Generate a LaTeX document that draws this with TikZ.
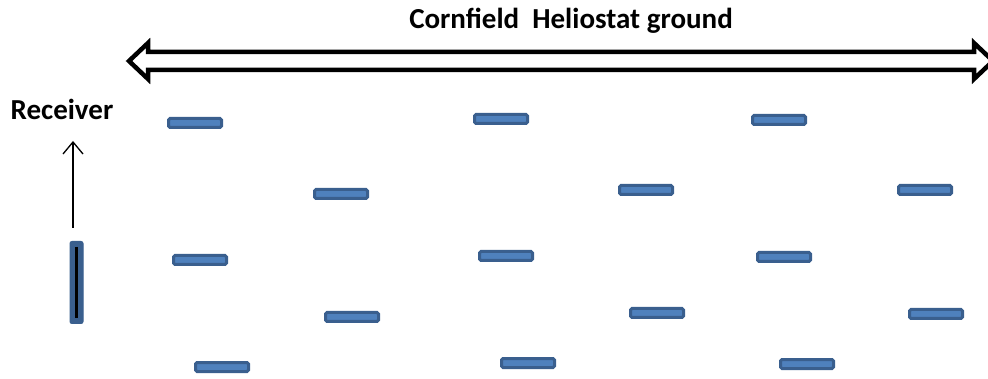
\documentclass[tikz,border=0pt]{standalone}
\usepackage{fontspec}
\setmainfont{Carlito}
\usetikzlibrary{arrows.meta}
\definecolor{hfill}{HTML}{4F81BD}
\definecolor{hborder}{HTML}{3A5F8E}
\begin{document}
\begin{tikzpicture}[x=1pt,y=-1pt,
  helio/.style={draw=hborder,fill=hfill,line width=3pt,rounded corners=1.5pt,minimum width=53pt,minimum height=9pt,inner sep=0pt},
  lbl/.style={font=\bfseries,text=black,inner sep=0pt}]
\useasboundingbox (0,0) rectangle (988,379);
\clip (0,0) rectangle (988,379);
% title
\node[lbl,font=\bfseries\fontsize{29}{34}\selectfont,anchor=base] (title) at (571,29) {Cornfield\ \ Heliostat ground};
% double arrow
\draw[line width=4.5pt,line join=miter] (129,61) -- (148,43) -- (148,52) -- (974,52) -- (974,43) -- (993,61) -- (974,79) -- (974,70) -- (148,70) -- (148,79) -- cycle;
% receiver
\node[lbl,font=\bfseries\fontsize{29}{34}\selectfont,anchor=base] (rlabel) at (62,120) {Receiver};
\node[draw=hborder,fill=hborder,line width=1pt,rounded corners=2pt,minimum width=13pt,minimum height=82pt,inner sep=0pt] (recv) at (76.5,282.5) {};
\draw[line width=3.5pt] (76.5,247) -- (76.5,318);
\coordinate (abot) at (73,228);
\draw[line width=1.3pt,-{Straight Barb[length=12pt,width=20pt,line width=1.3pt]}] (abot) -- (73,141);
% heliostats
\foreach \n/\x/\y in {a/195/123,b/501/119,c/779/120,
  d/341/194,e/646/190,f/925/190,
  g/200/260,h/506/256,i/784/257,
  j/352/317,k/657/313,l/936/314,
  m/222/367,n/528/363,o/807/364}
  \node[helio] (h\n) at (\x,\y) {};
\end{tikzpicture}
\end{document}
